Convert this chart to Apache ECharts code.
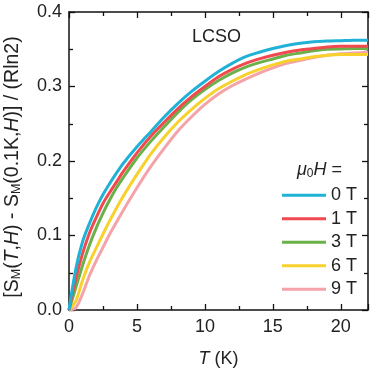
<!DOCTYPE html>
<html><head><meta charset="utf-8">
<script src="https://cdn.jsdelivr.net/npm/echarts@6/dist/echarts.min.js"></script>
<style>html,body{margin:0;padding:0;background:#fff}#c{width:373px;height:371px}</style>
</head><body><div id="c"></div>
<script>
const temps = [0, 0.5, 1, 1.5, 2, 2.5, 3, 3.5, 4, 5, 6, 7, 8, 9, 10, 11, 12, 13, 14, 15, 16, 17, 18, 19, 20, 21, 22];
const s0T = [0, 0.055, 0.092, 0.116, 0.137, 0.155, 0.170, 0.184, 0.197, 0.219, 0.239, 0.259, 0.277, 0.293, 0.307, 0.320, 0.331, 0.340, 0.346, 0.351, 0.355, 0.358, 0.360, 0.361, 0.3615, 0.362, 0.362];
const s1T = [0, 0.042, 0.076, 0.103, 0.124, 0.143, 0.158, 0.172, 0.186, 0.211, 0.233, 0.252, 0.270, 0.286, 0.300, 0.313, 0.323, 0.331, 0.337, 0.342, 0.346, 0.349, 0.351, 0.353, 0.354, 0.354, 0.354];
const s3T = [0, 0.030, 0.060, 0.087, 0.110, 0.130, 0.148, 0.164, 0.178, 0.204, 0.226, 0.246, 0.265, 0.282, 0.296, 0.308, 0.318, 0.326, 0.332, 0.337, 0.342, 0.345, 0.348, 0.350, 0.3505, 0.351, 0.351];
const s6T = [0, 0.012, 0.040, 0.064, 0.083, 0.102, 0.120, 0.137, 0.153, 0.182, 0.209, 0.232, 0.252, 0.269, 0.284, 0.297, 0.307, 0.316, 0.323, 0.329, 0.334, 0.337, 0.340, 0.342, 0.343, 0.343, 0.343];
const s9T = [0, 0.003, 0.022, 0.046, 0.066, 0.084, 0.102, 0.118, 0.134, 0.164, 0.192, 0.217, 0.240, 0.259, 0.276, 0.290, 0.301, 0.310, 0.318, 0.325, 0.331, 0.335, 0.339, 0.342, 0.344, 0.345, 0.346];
const seriesNames = ['0 T', '1 T', '3 T', '6 T', '9 T'];
const seriesColors = ['#1fb2d6', '#f0494f', '#6ab14a', '#f8d12c', '#f4a3a8'];
const xTicks = [0, 5, 10, 15, 20];
const yTicks = [0.0, 0.1, 0.2, 0.3, 0.4];

const allValues = [s0T, s1T, s3T, s6T, s9T];
const chart = echarts.init(document.getElementById('c'), null, {renderer: 'canvas'});
const FONT = 'Liberation Sans, Arial, sans-serif';
const axisCommon = {
  axisLine: {show: true, onZero: false, lineStyle: {color: '#111', width: 1.5}},
  axisTick: {show: true, inside: true, length: 6, lineStyle: {color: '#111', width: 1.3}},
  minorTick: {show: true, splitNumber: 2, length: 4, lineStyle: {color: '#111', width: 1.3}},
  splitLine: {show: false}
};
chart.setOption({
  animation: false,
  textStyle: {fontFamily: FONT},
  grid: {left: 69, right: 5, top: 12, bottom: 61, outerBoundsMode: 'none', containLabel: false},
  title: {text: 'LCSO', left: 187, top: 23, textStyle: {fontFamily: FONT, fontSize: 18, fontWeight: 'normal', color: '#222'}},
  legend: {
    data: seriesNames, orient: 'vertical', left: 277, top: 181,
    icon: 'rect', itemWidth: 44, itemHeight: 3, itemGap: 5,
    textStyle: {fontFamily: FONT, fontSize: 18, color: '#222', lineHeight: 18.5}
  },
  graphic: [{
    type: 'text', left: 297, top: 161,
    style: {
      text: '{i|μ}{sub|0}{i|H} =',
      font: '18px Liberation Sans', fill: '#222',
      rich: {i: {fontStyle: 'italic', fontSize: 18, fontFamily: FONT}, sub: {fontSize: 12, fontFamily: FONT, verticalAlign: 'bottom', padding: [7, 0, 0, 0]}}
    }
  }],
  xAxis: [
    Object.assign({}, axisCommon, {
      type: 'value', min: 0, max: 22, interval: 5, position: 'bottom',
      name: '{i|T} (K)', nameLocation: 'middle', nameGap: 40,
      nameTextStyle: {fontFamily: FONT, fontSize: 18, color: '#222', rich: {i: {fontStyle: 'italic', fontSize: 18, fontFamily: FONT}}},
      axisLabel: {margin: 8, fontSize: 18, color: '#222', fontFamily: FONT,
        formatter: v => (xTicks.indexOf(v) >= 0 ? String(v) : '')}
    }),
    Object.assign({}, axisCommon, {
      type: 'value', min: 0, max: 22, interval: 5, position: 'top',
      axisLabel: {show: false}
    })
  ],
  yAxis: [
    Object.assign({}, axisCommon, {
      type: 'value', min: 0, max: 0.4, interval: 0.1, position: 'left',
      name: '[S{sub|M}({i|T},{i|H}) - S{sub|M}(0.1K,{i|H})] / (Rln2)',
      nameLocation: 'middle', nameGap: 46, nameRotate: 90,
      nameTextStyle: {fontFamily: FONT, fontSize: 19.5, color: '#222', padding: [0, 12, 0, 0],
        rich: {i: {fontStyle: 'italic', fontSize: 19.5, fontFamily: FONT}, sub: {fontSize: 12.5, fontFamily: FONT, verticalAlign: 'bottom', padding: [8, 0, 0, 0]}}},
      axisLabel: {margin: 7, fontSize: 18, color: '#222', fontFamily: FONT,
        formatter: v => { const i = yTicks.findIndex(t => Math.abs(t - v) < 1e-9); return i >= 0 ? yTicks[i].toFixed(1) : ''; }}
    }),
    Object.assign({}, axisCommon, {
      type: 'value', min: 0, max: 0.4, interval: 0.1, position: 'right',
      axisLabel: {show: false}
    })
  ],
  series: seriesNames.map((n, k) => ({
    name: n, type: 'line', xAxisIndex: 0, yAxisIndex: 0,
    data: temps.map((t, i) => [t, allValues[k][i]]),
    smooth: 0.3, showSymbol: false, symbol: 'none',
    lineStyle: {color: seriesColors[k], width: 3},
    itemStyle: {color: seriesColors[k]},
    z: 10 - k
  }))
});
</script></body></html>
